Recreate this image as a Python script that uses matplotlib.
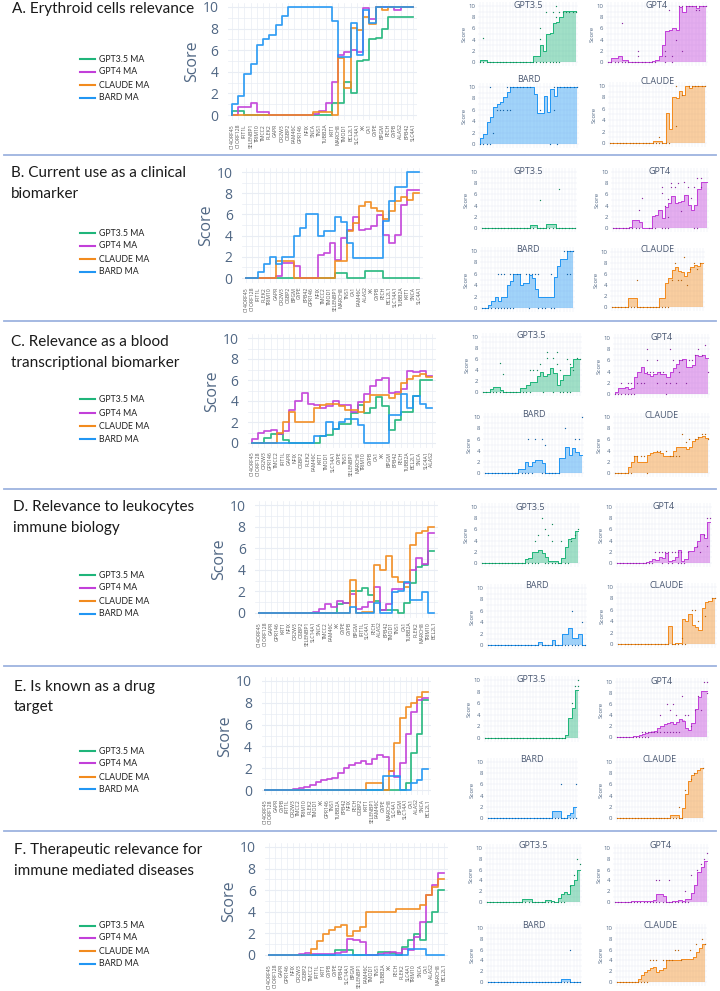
import matplotlib
matplotlib.use('Agg')
import matplotlib.pyplot as plt
from matplotlib.lines import Line2D
import numpy as np

# ------------------------------------------------------------------ data
MODELS = ['GPT3.5', 'GPT4', 'CLAUDE', 'BARD']
LEGEND_LABELS = ['GPT3.5 MA', 'GPT4 MA', 'CLAUDE MA', 'BARD MA']

TITLES = [
    ['A. Erythroid cells relevance'],
    ['B. Current use as a clinical', 'biomarker'],
    ['C. Relevance as a blood', 'transcriptional biomarker'],
    ['D. Relevance to leukocytes', 'immune biology'],
    ['E. Is known as a drug', 'target'],
    ['F. Therapeutic relevance for', 'immune mediated diseases'],
]

GENES_A = ['C14ORF45', 'C1ORF128', 'IFIT1L', 'SELENBP1', 'TRIM10', 'TMCC2', 'PLEK2', 'GAPR', 'OR2W3', 'OSBP2',
           'FAM46C', 'GPR146', 'NFIX', 'SNCA', 'TNS1', 'TUBB2A', 'KRT1', 'MARCH8', 'TMOD1', 'BCL2L1',
           'SLC14A1', 'XK', 'CA1', 'GYPE', 'BPGM', 'FECH', 'GYPB', 'ALAS2', 'EPB42', 'SLC4A1']
GENES_B = ['C14ORF45', 'C1ORF128', 'IFIT1L', 'PLEK2', 'TRIM10', 'GAPR', 'OR2W3', 'OSBP2', 'BPGM', 'GYPE',
           'EPB42', 'GPR146', 'NFIX', 'TMCC2', 'TMOD1', 'SELENBP1', 'MARCH8', 'TNS1', 'CA1', 'FAM46C',
           'ALAS2', 'XK', 'GYPB', 'FECH', 'BCL2L1', 'SLC14A1', 'TUBB2A', 'KRT1', 'SNCA', 'SLC4A1']
GENES_C = ['C14ORF45', 'C1ORF128', 'OR2W3', 'GPR146', 'TMCC2', 'IFIT1L', 'GAPR', 'NFIX', 'OSBP2', 'PLEK2',
           'FAM46C', 'KRT1', 'TMOD1', 'SLC14A1', 'GYPE', 'TNS1', 'SELENBP1', 'MARCH8', 'TRIM10', 'GYPB',
           'CA1', 'XK', 'BPGM', 'EPB42', 'FECH', 'TUBB2A', 'BCL2L1', 'SNCA', 'SLC4A1', 'ALAS2']
GENES_D = ['C14ORF45', 'C1ORF128', 'GAPR', 'GPR146', 'KRT1', 'NFIX', 'OR2W3', 'OSBP2', 'SELENBP1', 'SLC14A1',
           'SNCA', 'TMCC2', 'FAM46C', 'XK', 'GYPE', 'GYPB', 'BPGM', 'IFIT1L', 'SLC4A1', 'FECH',
           'ALAS2', 'EPB42', 'TMOD1', 'TNS1', 'CA1', 'TUBB2A', 'PLEK2', 'MARCH8', 'TRIM10', 'BCL2L1']
GENES_E = ['C14ORF45', 'C1ORF128', 'GAPR', 'GYPB', 'IFIT1L', 'OR2W3', 'TMCC2', 'TRIM10', 'PLEK2', 'TMOD1',
           'XK', 'GPR146', 'TNS1', 'TUBB2A', 'EPB42', 'NFIX', 'FECH', 'OSBP2', 'KRT1', 'SELENBP1',
           'FAM46C', 'GYPE', 'MARCH8', 'SLC4A1', 'BPGM', 'SLC14A1', 'CA1', 'ALAS2', 'SNCA', 'BCL2L1']
GENES_F = ['C14ORF45', 'C1ORF128', 'GAPR', 'GPR146', 'NFIX', 'OR2W3', 'OSBP2', 'TMCC2', 'IFIT1L', 'KRT1',
           'GYPB', 'GYPE', 'EPB42', 'SLC14A1', 'BPGM', 'SELENBP1', 'FAM46C', 'TMOD1', 'TNS1', 'TUBB2A',
           'XK', 'FECH', 'PLEK2', 'SLC4A1', 'TRIM10', 'SNCA', 'CA1', 'ALAS2', 'MARCH8', 'BCL2L1']

# moving-average scores per gene (same order as the gene lists)
A_GPT35 = [0, 0.4, 0.4, 0, 0, 0, 0, 0, 0, 0, 0, 0, 0, 0, 0, 0, 0, 1.1, 1.1, 3.1, 2.0, 5.0, 5.1, 7.0, 7.1, 8.0, 9.1, 9.1, 9.1, 9.1]
A_GPT4 = [0, 0, 0.7, 0.7, 1.1, 0.3, 0.3, 0, 0, 0, 0, 0, 0, 0, 0.1, 0.4, 1.1, 3.1, 5.6, 5.8, 6.0, 5.8, 9.9, 8.9, 10, 10, 10, 9.7, 10, 10]
A_CLAUDE = [0, 0, 0, 0, 0, 0, 0, 0, 0, 0, 0, 0, 0, 0, 0.3, 0.3, 0.3, 0, 5.3, 2.5, 8.1, 7.9, 9.1, 8.4, 10, 9.7, 10, 10, 10, 10]
A_BARD = [0, 1.0, 1.8, 3.8, 4.7, 6.5, 7.0, 7.4, 8.3, 9.2, 10, 10, 10, 10, 10, 10, 10, 8.7, 5.4, 5.4, 8.5, 5.6, 9.7, 8.5, 10, 10, 10, 10, 10, 10]

B_GPT35 = [0, 0, 0, 0, 0, 0, 0, 0, 0, 0, 0, 0, 0, 0, 0, 0, 0.5, 0.5, 0, 0, 0, 0.7, 0.7, 0.7, 0, 0, 0, 0, 0, 0]
B_GPT4 = [0, 0, 0, 0, 0, 0, 0.2, 1.4, 1.4, 1.1, 0, 0, 0, 2.2, 2.4, 3.3, 1.7, 3.8, 4.5, 5.8, 4.5, 4.6, 4.9, 5.9, 4.1, 3.3, 4.1, 6.9, 8.3, 8.3]
B_CLAUDE = [0, 0, 0, 0, 0, 0, 1.6, 1.6, 1.6, 0, 0, 0, 0, 0, 0, 0, 1.6, 1.6, 4.4, 5.2, 6.8, 7.2, 6.6, 6.3, 5.6, 6.3, 7.3, 7.6, 7.4, 8.0]
B_BARD = [0, 0, 0, 0.6, 1.3, 2.0, 1.3, 2.0, 2.0, 4.0, 4.7, 6.0, 6.0, 4.0, 4.4, 4.4, 5.8, 5.3, 3.3, 1.9, 1.9, 1.9, 1.9, 1.9, 5.4, 7.3, 8.6, 8.6, 10, 10]

C_GPT35 = [0, 0, 0, 0.5, 0.9, 0.9, 0.3, 0, 0, 0, 0, 0, 0.7, 0.8, 1.3, 1.8, 1.8, 2.9, 3.6, 2.9, 3.3, 4.4, 3.5, 1.2, 2.2, 3.0, 3.0, 4.5, 6.0, 6.0]
C_GPT4 = [0, 0.4, 1.0, 1.1, 1.2, 0.9, 1.1, 3.1, 4.0, 4.8, 3.7, 3.6, 3.3, 3.5, 4.0, 3.6, 3.6, 3.0, 3.9, 4.7, 5.4, 6.0, 6.2, 4.8, 4.9, 5.1, 6.9, 6.8, 6.9, 6.4]
C_CLAUDE = [0, 0, 0, 0, 0, 1.0, 2.0, 3.0, 2.0, 2.0, 2.0, 3.3, 3.6, 3.7, 3.7, 3.5, 3.1, 3.1, 3.0, 3.9, 4.6, 4.6, 4.6, 4.3, 4.7, 5.7, 6.1, 6.4, 6.6, 6.3]
C_BARD = [0, 0, 0, 0, 0, 0, 0, 0, 0, 0, 0, 0.7, 0.7, 2.0, 1.3, 2.0, 2.3, 2.3, 1.7, 0, 0, 0, 0, 2.7, 2.7, 4.7, 3.3, 4.5, 3.7, 3.3]

D_GPT35 = [0, 0, 0, 0, 0, 0, 0, 0, 0, 0, 0, 0, 0, 0, 0.8, 0.9, 2.0, 2.0, 2.3, 1.7, 1.1, 0.3, 0.3, 0.3, 0, 0.9, 2.8, 4.3, 4.4, 5.7]
D_GPT4 = [0, 0, 0, 0, 0, 0, 0, 0, 0, 0, 0.1, 0.4, 0.8, 0.6, 1.1, 0.9, 1.8, 0.4, 0.6, 1.0, 2.4, 0.3, 0.8, 2.2, 2.2, 2.8, 4.0, 5.1, 4.5, 7.4]
D_CLAUDE = [0, 0, 0, 0, 0, 0, 0, 0, 0, 0, 0, 0, 0, 0, 0, 0, 3.1, 0, 0.1, 0.1, 4.4, 4.0, 5.3, 3.3, 2.9, 2.4, 6.3, 7.4, 7.6, 8.0]
D_BARD = [0, 0, 0, 0, 0, 0, 0, 0, 0, 0, 0, 0, 0, 0, 0, 0, 0.6, 0, 0, 0, 0.9, 0, 0, 1.9, 2.0, 2.9, 1.2, 1.2, 1.9, 0]

E_GPT35 = [0, 0, 0, 0, 0, 0, 0, 0, 0, 0, 0, 0, 0, 0, 0, 0, 0, 0, 0, 0, 0, 0, 0, 0, 0, 0, 0.6, 3.4, 5.1, 8.3]
E_GPT4 = [0, 0, 0, 0, 0, 0, 0.1, 0.2, 0.3, 0.5, 0.7, 0.9, 1.0, 1.1, 1.6, 2.0, 2.3, 2.5, 2.7, 2.4, 2.8, 3.2, 3.0, 1.7, 1.2, 2.5, 5.1, 7.2, 8.3, 8.4]
E_CLAUDE = [0, 0, 0, 0, 0, 0, 0, 0, 0, 0, 0, 0, 0, 0, 0, 0, 0, 0, 0, 0.6, 0.6, 0.6, 0, 1.7, 4.3, 6.6, 7.6, 8.0, 8.5, 9.0]
E_BARD = [0, 0, 0, 0, 0, 0, 0, 0, 0, 0, 0, 0, 0, 0, 0, 0, 0, 0, 0, 0, 0, 0, 1.3, 1.3, 1.3, 0, 0, 0.6, 0.9, 1.9]

F_GPT35 = [0, 0, 0, 0, 0, 0, 0, 0, 0, 0, 0, 0, 0.5, 0.5, 0.5, 0, 0, 0, 0, 0.3, 0.3, 0.2, 0, 0.7, 1.4, 1.9, 1.4, 3.1, 4.0, 6.0]
F_GPT4 = [0, 0, 0, 0, 0, 0, 0.1, 0.2, 0.1, 0.1, 0.1, 0.1, 0.2, 0.3, 1.5, 1.4, 1.2, 0, 0, 0.1, 0.2, 0.3, 0.2, 0.6, 0.5, 1.7, 3.1, 5.6, 6.5, 7.6]
F_CLAUDE = [0, 0, 0, 0, 0, 0, 0, 0, 0.6, 1.3, 1.9, 2.3, 2.6, 2.8, 1.8, 2.2, 2.6, 4.0, 4.0, 4.0, 4.0, 4.0, 4.3, 4.3, 4.3, 4.3, 4.6, 5.6, 6.3, 7.0]
F_BARD = [0, 0, 0, 0, 0, 0, 0, 0, 0, 0, 0, 0, 0, 0, 0, 0, 0, 0, 0, 0, 0, 0, 0, 0, 0.6, 0.6, 0.6, 0, 0, 0]

# individual run scores shown as dots in the small panels:
# genes with a zero score, and the (gene, score) pairs above zero
A_GPT35_ZERO = list(range(0, 25))
A_GPT35_PTS = [(1, 4.2), (18, 6.1), (18, 4.1), (20, 9), (22, 9), (23, 10), (23, 8), (24, 9), (25, 9), (26, 9), (27, 9), (28, 9), (29, 9)]
A_GPT4_ZERO = list(range(0, 15)) + [17, 19]
A_GPT4_PTS = [(4, 7), (9, 2), (9, 1), (17, 2), (17, 1), (18, 9.2), (19, 1), (20, 4), (21, 10), (22, 2), (22, 10), (23, 10), (24, 10), (25, 10), (26, 9.2), (26, 10), (27, 9.2), (27, 10), (28, 10), (29, 10)]
A_BARD_ZERO = [0, 1, 2, 3, 21, 23]
A_BARD_PTS = [(3, 10), (4, 2), (5, 6), (6, 6), (7, 6), (8, 6), (9, 6), (8, 10), (9, 10), (10, 10), (11, 10), (12, 10), (13, 10), (14, 10), (15, 10), (18, 6), (22, 6), (22, 10), (23, 10), (24, 10), (25, 10), (26, 10), (27, 10), (28, 10), (29, 10)]
A_CLAUDE_ZERO = list(range(0, 19))
A_CLAUDE_PTS = [(15, 1), (20, 10), (20, 3), (22, 8.5), (24, 10), (25, 10), (26, 10), (27, 10), (28, 10), (29, 10)]

B_GPT35_ZERO = list(range(0, 30))
B_GPT35_PTS = [(18, 5), (24, 7)]
B_GPT4_ZERO = list(range(0, 9)) + [11, 12, 13, 15, 16, 17, 25, 26]
B_GPT4_PTS = [(8, 3.2), (9, 5.3), (15, 7.3), (15, 6.3), (16, 4), (17, 5.2), (17, 2), (18, 8), (18, 7.3), (19, 7.3), (20, 8), (21, 3), (22, 8.2), (23, 7.3), (24, 5.3), (25, 7.3), (26, 9), (27, 9), (27, 7.3)]
B_BARD_ZERO = list(range(0, 11)) + [15, 18, 19, 20, 22, 23]
B_BARD_PTS = [(5, 6), (6, 6), (7, 6), (9, 6), (10, 6), (11, 6), (12, 6), (14, 6), (15, 6), (16, 6), (17, 6), (18, 6), (22, 6), (26, 10), (27, 10), (28, 10), (29, 10), (27, 6), (28, 6)]
B_CLAUDE_ZERO = list(range(0, 19))
B_CLAUDE_PTS = [(8, 5), (19, 5), (20, 8), (21, 5), (22, 5), (23, 9), (24, 4), (25, 7), (26, 8), (27, 7), (28, 8)]

C_GPT35_ZERO = list(range(0, 15)) + [18, 21, 23, 24, 25, 26]
C_GPT35_PTS = [(5, 5.2), (6, 3.2), (14, 4), (15, 4), (16, 4), (17, 5), (19, 6.2), (19, 7.2), (21, 6.2), (22, 7.2), (22, 5), (23, 4), (25, 6), (26, 5), (27, 4), (28, 6.2), (29, 6)]
C_GPT4_ZERO = list(range(0, 7)) + [16]
C_GPT4_PTS = [(2, 2), (4, 2), (5, 2), (7, 2), (8, 2), (9, 2), (10, 4), (10, 6), (10, 8), (11, 4), (12, 4), (13, 2), (13, 6), (14, 4), (15, 4), (16, 2), (17, 8), (17, 2), (18, 6), (19, 2), (20, 4), (20, 6), (21, 6), (22, 2), (23, 6), (24, 6), (25, 7), (26, 8), (27, 7), (28, 8.8), (29, 4)]
C_BARD_ZERO = list(range(0, 15)) + [17, 18, 19, 20, 21, 22]
C_BARD_PTS = [(13, 6), (15, 6), (17, 6), (18, 5), (24, 8), (27, 6), (28, 6), (29, 10)]
C_CLAUDE_ZERO = list(range(0, 6)) + [10]
C_CLAUDE_PTS = [(6, 3), (7, 3), (8, 3), (9, 3), (13, 4), (14, 4), (16, 4), (17, 3), (18, 3), (19, 3), (20, 3), (21, 7), (22, 5.5), (23, 6), (25, 6), (26, 6.5), (27, 7), (28, 7), (29, 6)]

D_GPT35_ZERO = list(range(0, 18)) + [19, 20, 21, 22, 23, 24, 25, 26]
D_GPT35_PTS = [(16, 4), (17, 5), (18, 8), (19, 6), (20, 5), (21, 7), (21, 4), (24, 4), (27, 4), (28, 5), (29, 6)]
D_GPT4_ZERO = list(range(0, 12)) + [14, 16, 17, 19, 20, 21]
D_GPT4_PTS = [(12, 2), (13, 2), (14, 2), (15, 2), (16, 2), (17, 2), (18, 2), (19, 2), (20, 2), (22, 2), (25, 3), (26, 2), (27, 5), (28, 8), (29, 8), (28, 3)]
D_BARD_ZERO = list(range(0, 30))
D_BARD_PTS = [(25, 6), (28, 4)]
D_CLAUDE_ZERO = list(range(0, 21))
D_CLAUDE_PTS = [(19, 1), (22, 6), (23, 6), (24, 4), (26, 5), (28, 8), (29, 8)]

E_GPT35_ZERO = list(range(0, 26))
E_GPT35_PTS = [(27, 6), (28, 9), (29, 10), (29, 9)]
E_GPT4_ZERO = list(range(0, 11))
E_GPT4_PTS = [(8, 1), (9, 1), (10, 1), (11, 1), (12, 1), (13, 1), (14, 1), (15, 1), (16, 1), (17, 1), (18, 1), (19, 1), (20, 1), (14, 4), (16, 6), (17, 5), (18, 6), (19, 4), (21, 7.5), (22, 4), (23, 4), (24, 2), (25, 5), (26, 7.5), (27, 5), (28, 10), (29, 10), (29, 8)]
E_BARD_ZERO = list(range(0, 30))
E_BARD_PTS = [(24, 6), (29, 6)]
E_CLAUDE_ZERO = list(range(0, 23))
E_CLAUDE_PTS = [(21, 2), (23, 5), (25, 7), (26, 8), (29, 9)]

F_GPT35_ZERO = list(range(0, 25))
F_GPT35_PTS = [(26, 3), (27, 5), (28, 8), (29, 7)]
F_GPT4_ZERO = list(range(0, 24))
F_GPT4_PTS = [(13, 4), (14, 4), (17, 4), (22, 2), (24, 5), (26, 6), (27, 7), (28, 8), (29, 9)]
F_BARD_ZERO = list(range(0, 30))
F_BARD_PTS = [(26, 6)]
F_CLAUDE_ZERO = list(range(0, 11))
F_CLAUDE_PTS = [(11, 4), (12, 4), (13, 4), (15, 4), (16, 4), (17, 4), (18, 4), (19, 6), (20, 6), (21, 4), (24, 6), (26, 7), (28, 8), (29, 7)]

ROWS = [
    (GENES_A, [A_GPT35, A_GPT4, A_CLAUDE, A_BARD],
     [(A_GPT35_ZERO, A_GPT35_PTS), (A_GPT4_ZERO, A_GPT4_PTS), (A_CLAUDE_ZERO, A_CLAUDE_PTS), (A_BARD_ZERO, A_BARD_PTS)]),
    (GENES_B, [B_GPT35, B_GPT4, B_CLAUDE, B_BARD],
     [(B_GPT35_ZERO, B_GPT35_PTS), (B_GPT4_ZERO, B_GPT4_PTS), (B_CLAUDE_ZERO, B_CLAUDE_PTS), (B_BARD_ZERO, B_BARD_PTS)]),
    (GENES_C, [C_GPT35, C_GPT4, C_CLAUDE, C_BARD],
     [(C_GPT35_ZERO, C_GPT35_PTS), (C_GPT4_ZERO, C_GPT4_PTS), (C_CLAUDE_ZERO, C_CLAUDE_PTS), (C_BARD_ZERO, C_BARD_PTS)]),
    (GENES_D, [D_GPT35, D_GPT4, D_CLAUDE, D_BARD],
     [(D_GPT35_ZERO, D_GPT35_PTS), (D_GPT4_ZERO, D_GPT4_PTS), (D_CLAUDE_ZERO, D_CLAUDE_PTS), (D_BARD_ZERO, D_BARD_PTS)]),
    (GENES_E, [E_GPT35, E_GPT4, E_CLAUDE, E_BARD],
     [(E_GPT35_ZERO, E_GPT35_PTS), (E_GPT4_ZERO, E_GPT4_PTS), (E_CLAUDE_ZERO, E_CLAUDE_PTS), (E_BARD_ZERO, E_BARD_PTS)]),
    (GENES_F, [F_GPT35, F_GPT4, F_CLAUDE, F_BARD],
     [(F_GPT35_ZERO, F_GPT35_PTS), (F_GPT4_ZERO, F_GPT4_PTS), (F_CLAUDE_ZERO, F_CLAUDE_PTS), (F_BARD_ZERO, F_BARD_PTS)]),
]

# ------------------------------------------------------------------ style / layout
W, H = 720, 991
plt.rcParams['font.family'] = ['Open Sans', 'DejaVu Sans']
LINE_COLORS = ['#1fb57a', '#c23fd9', '#f28b1e', '#2196f3']
DOT_COLORS = ['#138a5a', '#8e2ba3', '#b8650f', '#1565a8']
GRID = '#e9edf4'
TICK_COL = '#506784'
TEXT_FONT = ['Lato', 'DejaVu Sans']

# main-chart pixel frames: (x of first gene, x of last gene, y of 0, y of 10)
MAIN_FRAMES = [(232, 413, 115, 7), (246, 419, 278, 172), (252, 432, 443, 338),
               (259, 434, 613, 505), (265, 428, 790, 681), (269, 444, 955, 847)]
# small panels frames in model order GPT3.5, GPT4, CLAUDE, BARD
SMALL_FRAMES = [
    [(480, 576, 62, 6), (608, 706, 62, 6), (610, 705, 143, 86), (480, 577, 144, 87)],
    [(482, 575, 228, 172), (613, 707, 228, 172), (612, 703, 307, 252), (482, 573, 308, 251)],
    [(483, 580, 392, 337), (615, 708, 394, 338), (615, 708, 473, 417), (485, 582, 473, 417)],
    [(482, 578, 563, 507), (617, 710, 563, 507), (618, 715, 644, 587), (488, 585, 645, 588)],
    [(485, 578, 738, 680), (617, 707, 737, 682), (617, 703, 818, 762), (488, 576, 818, 762)],
    [(487, 580, 902, 848), (615, 707, 902, 848), (617, 705, 982, 928), (488, 580, 982, 928)],
]
# vertical offset (px above the 10-line) of each small-panel title
SMALL_TITLE_UP = [
    [1, 1, 4, 7],
    [1, 1, 2, 1],
    [1, 1, 2, 3],
    [-1, 0, 2, 2],
    [1, 1, 3, 3],
    [2, 2, 3, 3],
]
TITLE_POS = [(12, [9]), (11, [173, 194]), (11, [342, 363]), (13, [507, 528]), (14, [687, 707]), (14, [850, 871])]
LEGEND_Y = [(59, 72, 85, 98), (233, 246, 259, 272), (399, 413, 426, 439),
            (575, 588, 601, 614), (751, 763, 777, 789), (926, 938, 951, 964)]
SEPARATORS = [155, 321, 489, 666, 831]

fig = plt.figure(figsize=(W / 100, H / 100), dpi=100)
fig.patch.set_facecolor('white')


def frame_axes(g0, g29, y0, y10, xlim, ylim):
    ppg = (g29 - g0) / 29.0
    left = g0 + xlim[0] * ppg
    right = g0 + xlim[1] * ppg
    ppu = (y0 - y10) / 10.0
    top = y0 - ylim[1] * ppu
    bottom = y0 - ylim[0] * ppu
    ax = fig.add_axes([left / W, 1 - bottom / H, (right - left) / W, (bottom - top) / H])
    ax.set_xlim(*xlim)
    ax.set_ylim(*ylim)
    for s in ax.spines.values():
        s.set_visible(False)
    return ax


x = np.arange(30)
for r, (genes, series, dots) in enumerate(ROWS):
    # ---------------- main chart
    ax = frame_axes(*MAIN_FRAMES[r], xlim=(-0.6, 29.6), ylim=(-0.5, 10.4))
    for g in range(30):
        ax.axvline(g, color=GRID, lw=0.5, zorder=0)
    for yv in range(0, 11):
        ax.axhline(yv, color=GRID, lw=0.5 if yv % 2 else 0.8, zorder=0)
    for k, vals in enumerate(series):
        ax.step(x, vals, where='pre', color=LINE_COLORS[k], lw=1.25, alpha=0.92, zorder=2 + k)
    ax.set_xticks(x)
    ax.set_xticklabels(genes, rotation=90, fontsize=3.7, color='#555555')
    ax.set_yticks([0, 2, 4, 6, 8, 10])
    ax.tick_params(axis='both', length=0)
    ax.tick_params(axis='y', labelsize=10, labelcolor=TICK_COL, pad=7)
    ax.tick_params(axis='x', pad=2.5)
    ax.set_ylabel('Score', fontsize=11.5, color=TICK_COL, labelpad=2)

    # ---------------- small panels
    for k in range(4):
        frame = SMALL_FRAMES[r][k]
        sax = frame_axes(*frame, xlim=(-0.7, 29.7), ylim=(-0.7, 10.7))
        for g in range(30):
            sax.axvline(g, color=GRID, lw=0.35, zorder=0)
        for yv in range(0, 11):
            sax.axhline(yv, color=GRID, lw=0.35, zorder=0)
        vals = series[k]
        sax.fill_between(x, vals, 0, step='pre', color=LINE_COLORS[k], alpha=0.42, lw=0, zorder=1)
        sax.step(x, vals, where='pre', color=LINE_COLORS[k], lw=0.7, zorder=2)
        zeros, pts = dots[k]
        sax.scatter(zeros, [0] * len(zeros), s=0.9, color=DOT_COLORS[k], lw=0, zorder=3)
        if pts:
            sax.scatter([p[0] for p in pts], [p[1] for p in pts], s=0.9, color=DOT_COLORS[k], lw=0, zorder=3)
        sax.set_xticks([])
        sax.set_yticks([0, 2, 4, 6, 8, 10])
        sax.tick_params(axis='y', length=0, labelsize=4.3, labelcolor=TICK_COL, pad=2)
        sax.set_ylabel('Score', fontsize=4.5, color=TICK_COL, labelpad=1)
        ppu = (frame[2] - frame[3]) / 10.0
        ty = 10 + SMALL_TITLE_UP[r][k] / ppu
        sax.text(14.5, ty, MODELS[k], ha='center', va='center',
                 fontsize=6.5, color='#4a5872', zorder=5)

    # ---------------- title and legend
    tx, tys = TITLE_POS[r]
    for line, ty in zip(TITLES[r], tys):
        fig.text(tx / W, 1 - ty / H, line, fontsize=11, color='#1a1a1a', va='center', ha='left',
                 family=TEXT_FONT)
    for k, ly in enumerate(LEGEND_Y[r]):
        fig.add_artist(Line2D([80 / W, 95 / W], [1 - ly / H, 1 - ly / H], color=LINE_COLORS[k], lw=1.5,
                              transform=fig.transFigure))
        fig.text(99 / W, 1 - ly / H, LEGEND_LABELS[k], fontsize=6.3, color='#222222', va='center', ha='left',
                 family=TEXT_FONT)

for sy in SEPARATORS:
    fig.add_artist(Line2D([4 / W, 716 / W], [1 - sy / H, 1 - sy / H], color='#9db3df', lw=1.3,
                          transform=fig.transFigure))

fig.savefig('out.png', dpi=100, facecolor='white')
